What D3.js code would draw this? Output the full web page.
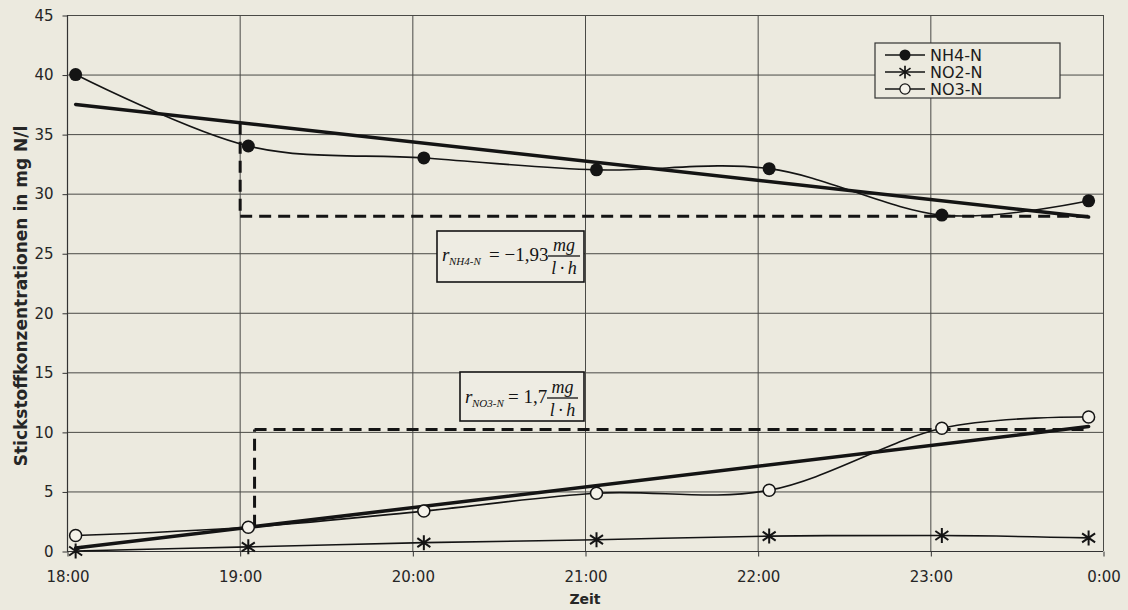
<!DOCTYPE html>
<html>
<head>
<meta charset="utf-8">
<script src="https://cdn.jsdelivr.net/npm/d3@7"></script>
<style>
  html, body { margin: 0; padding: 0; background: #eceadf; }
  svg { display: block; }
</style>
</head>
<body>
<svg id="chart" width="1128" height="610"></svg>
<script>
// Sampling times (clock time) and nitrogen concentrations in mg N/l
const sampleTimes = ["18:03", "19:03", "20:04", "21:04", "22:04", "23:04", "23:55"];
const nh4 = [40, 34, 33, 32, 32.1, 28.2, 29.4];
const no2 = [0, 0.35, 0.7, 0.95, 1.25, 1.3, 1.1];
const no3 = [1.3, 2.0, 3.35, 4.85, 5.1, 10.3, 11.25];
const seriesNames = ["NH4-N", "NO2-N", "NO3-N"];

// Axis ticks
const yTicks = [0, 5, 10, 15, 20, 25, 30, 35, 40, 45];
const xTicks = ["18:00", "19:00", "20:00", "21:00", "22:00", "23:00", "0:00"];

// Rate construction lines: start time of the step and level of the horizontal leg
const nh4GuideStart = "19:00";
const nh4GuideLevel = 28.1;
const no3GuideStart = "19:05";
const no3GuideLevel = 10.2;

// Rate annotations
const nh4Rate = "\u22121,93";
const no3Rate = "1,7";

const W = 1128, H = 610;
const margin = { left: 67, right: 25, top: 15, bottom: 59 };

function toDate(s) {
  const [h, m] = s.split(":").map(Number);
  return new Date(2000, 0, h < 12 ? 2 : 1, h, m);
}

const svg = d3.select("#chart");
const ink = "#141414";

const x = d3.scaleTime()
  .domain([toDate("18:00"), toDate("0:00")])
  .range([margin.left, W - margin.right]);
const y = d3.scaleLinear()
  .domain([0, 45])
  .range([H - margin.bottom, margin.top]);

const x0 = x.range()[0], x1 = x.range()[1];
const yB = y(0), yT = y(45);

// Grid
const grid = svg.append("g").attr("stroke", "#4a4a46").attr("stroke-width", 1);
grid.selectAll(".hg").data(yTicks.filter(d => d > 0)).join("line")
  .attr("x1", x0).attr("x2", x1)
  .attr("y1", d => y(d) + 0.5).attr("y2", d => y(d) + 0.5);
grid.selectAll(".vg").data(xTicks.slice(1)).join("line")
  .attr("x1", d => x(toDate(d)) + 0.5).attr("x2", d => x(toDate(d)) + 0.5)
  .attr("y1", yT).attr("y2", yB);

// Axes
const tickFont = "DejaVu Sans, Verdana, sans-serif";
const xAxis = d3.axisBottom(x)
  .tickValues(xTicks.map(toDate))
  .tickFormat(d3.timeFormat("%-H:%M"))
  .tickSize(5).tickPadding(15);
const gx = svg.append("g").attr("transform", `translate(0.5,${yB + 0.5})`).call(xAxis);
const yAxis = d3.axisLeft(y).tickValues(yTicks).tickSize(5).tickPadding(9);
const gy = svg.append("g").attr("transform", `translate(${x0 + 0.5},0.5)`).call(yAxis);
[gx, gy].forEach(g => {
  g.select(".domain").remove();
  g.selectAll("line").attr("stroke", "#333");
  g.selectAll("text").attr("fill", "#262626")
    .style("font-family", tickFont).style("font-size", "15px");
});
svg.append("line").attr("x1", x0 + 0.5).attr("x2", x0 + 0.5)
  .attr("y1", yT).attr("y2", yB).attr("stroke", "#333").attr("stroke-width", 1.2);
svg.append("line").attr("x1", x0).attr("x2", x1)
  .attr("y1", yB + 0.5).attr("y2", yB + 0.5).attr("stroke", "#333").attr("stroke-width", 1.2);

// Axis titles
svg.append("text")
  .attr("transform", `translate(27,${(yT + yB) / 2 + 13}) rotate(-90)`)
  .attr("text-anchor", "middle")
  .style("font-family", tickFont).style("font-size", "17px").style("font-weight", "bold")
  .attr("fill", "#262626")
  .text("Stickstoffkonzentrationen in mg N/l");
svg.append("text")
  .attr("x", (x0 + x1) / 2).attr("y", 604)
  .attr("text-anchor", "middle")
  .style("font-family", tickFont).style("font-size", "14px").style("font-weight", "bold")
  .attr("fill", "#262626")
  .text("Zeit");

// Least-squares trend over the samples (time in hours)
const tHours = sampleTimes.map(s => (toDate(s) - toDate("18:00")) / 3600000);
function fit(vals) {
  const mt = d3.mean(tHours), mv = d3.mean(vals);
  const sxy = d3.sum(tHours, (t, i) => (t - mt) * (vals[i] - mv));
  const sxx = d3.sum(tHours, t => (t - mt) * (t - mt));
  const slope = sxy / sxx;
  return h => mv + slope * (h - mt);
}
const hoursOf = s => (toDate(s) - toDate("18:00")) / 3600000;
const nh4Fit = fit(nh4), no3Fit = fit(no3);
const tFirst = sampleTimes[0], tLast = sampleTimes[sampleTimes.length - 1];

// Dashed rate construction lines
const guides = svg.append("g").attr("stroke", ink).attr("stroke-width", 3)
  .attr("stroke-dasharray", "12,7").attr("fill", "none");
function guide(start, level, f) {
  const xs = x(toDate(start)) + 0.5;
  guides.append("path").attr("d",
    `M${xs},${y(f(hoursOf(start)))}V${y(level)}`);
  guides.append("path").attr("d",
    `M${xs},${y(level)}H${x(toDate(tLast))}`);
}
guide(nh4GuideStart, nh4GuideLevel, nh4Fit);
guide(no3GuideStart, no3GuideLevel, no3Fit);

// Trend lines
const trends = svg.append("g").attr("stroke", ink).attr("stroke-width", 3.5)
  .attr("stroke-linecap", "round");
[nh4Fit, no3Fit].forEach(f => {
  trends.append("line")
    .attr("x1", x(toDate(tFirst))).attr("y1", y(f(hoursOf(tFirst))))
    .attr("x2", x(toDate(tLast))).attr("y2", y(f(hoursOf(tLast))));
});

// Measured series (smoothed)
const line = d3.line()
  .x((d, i) => x(toDate(sampleTimes[i])))
  .y(d => y(d))
  .curve(d3.curveCardinal.tension(0));
const series = [nh4, no2, no3];
svg.append("g").selectAll("path").data(series).join("path")
  .attr("d", line).attr("fill", "none").attr("stroke", ink).attr("stroke-width", 1.6);

// Markers
const starPath = "M0,-7.5V7.5M-6.5,-4.5L6.5,4.5M-6.5,4.5L6.5,-4.5";
function marker(g, kind) {
  if (kind === 0) g.append("circle").attr("r", 6.5).attr("fill", ink);
  else if (kind === 1) g.append("path").attr("d", starPath).attr("stroke", ink)
    .attr("stroke-width", 2).attr("fill", "none");
  else g.append("circle").attr("r", 6).attr("fill", "#f4f2ea")
    .attr("stroke", ink).attr("stroke-width", 1.5);
}
series.forEach((vals, k) => {
  vals.forEach((v, i) => {
    const g = svg.append("g")
      .attr("transform", `translate(${x(toDate(sampleTimes[i]))},${y(v)})`);
    marker(g, k);
  });
});

// Legend
const lg = svg.append("g").attr("transform", "translate(875,43)");
lg.append("rect").attr("width", 185).attr("height", 55)
  .attr("fill", "#eceadf").attr("stroke", "#333").attr("stroke-width", 1.2);
seriesNames.forEach((name, k) => {
  const row = lg.append("g").attr("transform", `translate(0,${12 + k * 17})`);
  row.append("line").attr("x1", 10).attr("x2", 50).attr("stroke", ink).attr("stroke-width", 1.6);
  const m = row.append("g").attr("transform", "translate(30,0) scale(0.85)");
  marker(m, k);
  row.append("text").attr("x", 55).attr("y", 6)
    .style("font-family", tickFont).style("font-size", "16px")
    .attr("fill", "#1c1c1c").text(name);
});

// Rate formula boxes
const serif = "Liberation Serif, Times New Roman, serif";
function formula(bx, by, bw, bh, sub, rate, o) {
  const g = svg.append("g").attr("transform", `translate(${bx},${by})`)
    .style("font-family", serif).attr("fill", ink);
  g.append("rect").attr("width", bw).attr("height", bh)
    .attr("fill", "#eeece3").attr("stroke", ink).attr("stroke-width", 1.6);
  g.append("text").attr("x", o.r).attr("y", o.base)
    .style("font-size", "19px").style("font-style", "italic").text("r");
  g.append("text").attr("x", o.r + 7).attr("y", o.base + 4)
    .style("font-size", "11px").style("font-style", "italic").text(sub);
  g.append("text").attr("x", o.eq).attr("y", o.base)
    .style("font-size", "19px").text("= " + rate);
  g.append("line").attr("x1", o.fx).attr("x2", o.fx + o.fw)
    .attr("y1", o.base - 5).attr("y2", o.base - 5).attr("stroke", ink).attr("stroke-width", 1.3);
  g.append("text").attr("x", o.fx + o.fw / 2).attr("y", o.base - 10)
    .attr("text-anchor", "middle")
    .style("font-size", "18px").style("font-style", "italic").text("mg");
  g.append("text").attr("x", o.fx + o.fw / 2).attr("y", o.base + 13)
    .attr("text-anchor", "middle")
    .style("font-size", "18px").style("font-style", "italic").text("l\u2009\u00b7\u2009h");
}
formula(437, 231, 147, 51, "NH4-N", nh4Rate,
  { r: 5, base: 30, eq: 52, fx: 111, fw: 32 });
formula(460, 372, 124, 49, "NO3-N", no3Rate,
  { r: 5, base: 31, eq: 48, fx: 87, fw: 31 });
</script>
</body>
</html>
